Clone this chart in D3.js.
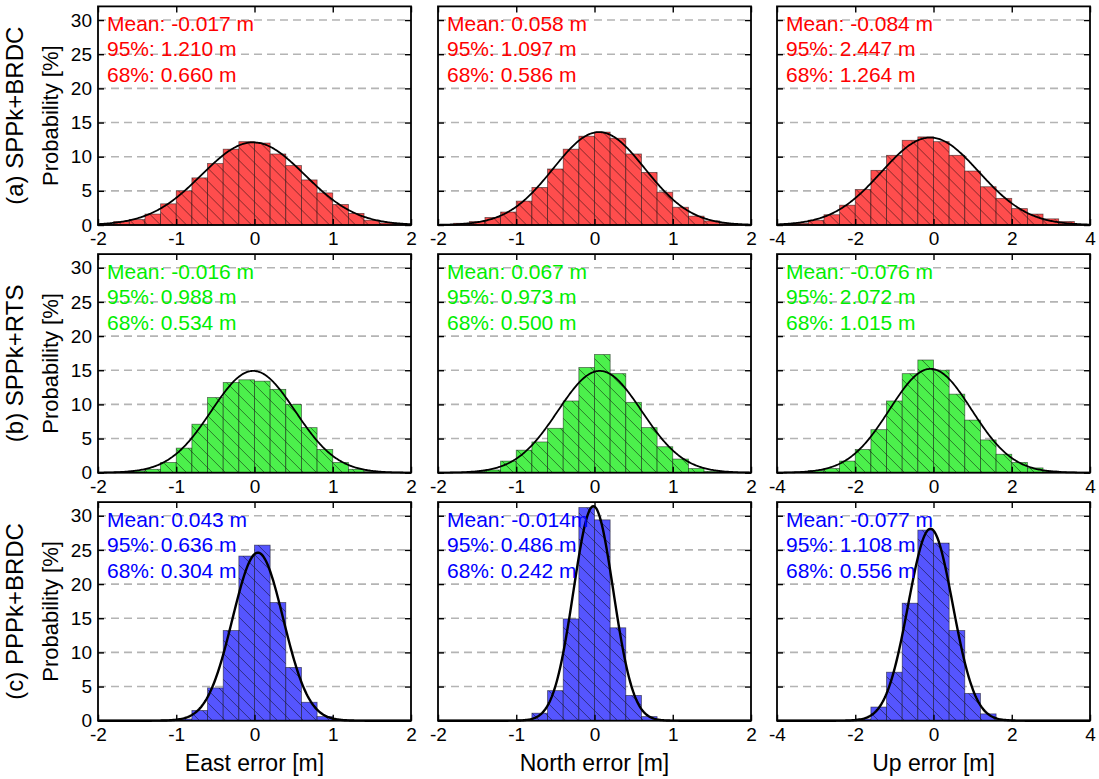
<!DOCTYPE html>
<html>
<head>
<meta charset="utf-8">
<script src="https://cdn.jsdelivr.net/npm/d3@7"></script>
<style>
  body { margin: 0; background: #fff; }
  text { font-family: "Liberation Sans", Arial, sans-serif; }
</style>
</head>
<body>
<div id="chart"></div>
<script>
// rows = methods, columns = error components
const methods = ["(a) SPPk+BRDC", "(b) SPPk+RTS", "(c) PPPk+BRDC"];
const components = ["East error [m]", "North error [m]", "Up error [m]"];
const xDomains = [[-2, 2], [-2, 2], [-4, 4]];
const xTickValues = [[-2, -1, 0, 1, 2], [-2, -1, 0, 1, 2], [-4, -2, 0, 2, 4]];
const binWidths = [0.2, 0.2, 0.4];
const yTicks = [0, 5, 10, 15, 20, 25, 30];

// histogram heights [%], 20 bins per panel from the left edge of the x domain
const histA = [
  [0.1, 0.5, 0.8, 1.6, 3.1, 5.0, 6.9, 9.0, 11.1, 12.2, 12.0, 10.4, 8.7, 6.6, 4.7, 3.0, 1.7, 0.7, 0.3, 0.1],
  [0.05, 0.25, 0.5, 1.1, 1.9, 3.5, 5.5, 8.2, 11.1, 13.0, 13.6, 12.7, 10.4, 7.7, 4.8, 2.6, 1.3, 0.6, 0.2, 0.05],
  [0.1, 0.25, 0.7, 1.5, 2.9, 5.2, 8.0, 10.2, 12.4, 12.9, 12.2, 10.2, 7.9, 5.6, 3.9, 2.4, 1.6, 0.9, 0.5, 0.1]
];
const histB = [
  [0, 0.1, 0.25, 0.5, 1.5, 3.6, 7.1, 11.0, 13.2, 13.6, 13.4, 12.2, 10.0, 6.6, 3.4, 1.5, 0.5, 0.15, 0, 0],
  [0, 0, 0.2, 0.4, 1.7, 3.3, 4.5, 6.5, 10.5, 15.4, 17.3, 14.5, 10.3, 6.6, 3.8, 2.0, 0.6, 0.2, 0, 0],
  [0, 0.1, 0.3, 0.6, 1.7, 3.4, 6.3, 10.5, 14.5, 16.5, 15.0, 11.5, 7.7, 4.8, 2.7, 1.5, 0.7, 0.25, 0.1, 0]
];
const histC = [
  [0, 0, 0, 0, 0.1, 0.25, 1.5, 4.8, 13.2, 24.1, 25.7, 17.3, 7.8, 2.7, 0.6, 0.1, 0, 0, 0, 0],
  [0, 0, 0, 0, 0, 0.1, 1.1, 4.4, 14.9, 31.2, 29.4, 13.6, 3.7, 0.6, 0.05, 0, 0, 0, 0, 0],
  [0, 0, 0, 0, 0.05, 0.25, 2.0, 7.1, 17.2, 27.9, 26.0, 13.2, 4.0, 1.0, 0.1, 0, 0, 0, 0, 0]
];
const hists = [histA, histB, histC];

// fitted normal curve: mean [m] and peak height [%]
const means = [[-0.017, 0.058, -0.084], [-0.016, 0.067, -0.076], [0.043, -0.014, -0.077]];
const curvePeaks = [[12.1, 13.6, 12.8], [14.9, 14.9, 15.2], [24.6, 31.4, 28.1]];

// stats text
const meanLabels = [["Mean: -0.017 m", "Mean: 0.058 m", "Mean: -0.084 m"],
                    ["Mean: -0.016 m", "Mean: 0.067 m", "Mean: -0.076 m"],
                    ["Mean: 0.043 m", "Mean: -0.014m", "Mean: -0.077 m"]];
const p95Labels = [["95%: 1.210 m", "95%: 1.097 m", "95%: 2.447 m"],
                   ["95%: 0.988 m", "95%: 0.973 m", "95%: 2.072 m"],
                   ["95%: 0.636 m", "95%: 0.486 m", "95%: 1.108 m"]];
const p68Labels = [["68%: 0.660 m", "68%: 0.586 m", "68%: 1.264 m"],
                   ["68%: 0.534 m", "68%: 0.500 m", "68%: 1.015 m"],
                   ["68%: 0.304 m", "68%: 0.242 m", "68%: 0.556 m"]];

const fillColors = ["#ff4d4d", "#4cf04c", "#5555ff"];
const textColors = ["#ff0000", "#00ee00", "#0000ff"];

//layout
const width = 1099, height = 779;
const colLeft = [98, 438, 777];
const rowBottom = [225, 472.7, 720.7];
const plotW = 313;
const yMax = 32;
const plotH = 218.6;

const svg = d3.select("#chart").append("svg")
  .attr("width", width)
  .attr("height", height);

// hatch pattern, one per row colour
const defs = svg.append("defs");
fillColors.forEach((c, i) => {
  const p = defs.append("pattern")
    .attr("id", "hatch" + i)
    .attr("patternUnits", "userSpaceOnUse")
    .attr("width", 13).attr("height", 13);
  p.append("rect").attr("width", 13).attr("height", 13).attr("fill", c);
  p.append("path")
    .attr("d", "M0,0L13,13M-6.5,6.5L6.5,19.5M6.5,-6.5L19.5,6.5")
    .attr("stroke", "rgba(0,0,0,0.6)")
    .attr("stroke-width", 0.8);
});

const yscale = d3.scaleLinear().domain([0, yMax]).range([plotH, 0]);

methods.forEach((method, r) => {
  components.forEach((comp, c) => {
    const top = rowBottom[r] - plotH;
    const g = svg.append("g")
      .attr("transform", "translate(" + colLeft[c] + "," + top + ")");

    const xscale = d3.scaleLinear().domain(xDomains[c]).range([0, plotW]);

    // dashed grid
    g.append("g").selectAll("line")
      .data(yTicks.filter(t => t > 0))
      .join("line")
      .attr("x1", 0).attr("x2", plotW)
      .attr("y1", d => yscale(d)).attr("y2", d => yscale(d))
      .attr("stroke", "#b4b4b4")
      .attr("stroke-width", 1.6)
      .attr("stroke-dasharray", "8,5");

    // bars
    const bins = hists[r][c].map((v, i) => ({
      x0: xDomains[c][0] + i * binWidths[c],
      x1: xDomains[c][0] + (i + 1) * binWidths[c],
      v: v
    })).filter(d => d.v > 0);

    g.append("g").selectAll("rect")
      .data(bins)
      .join("rect")
      .attr("x", d => xscale(d.x0))
      .attr("width", d => xscale(d.x1) - xscale(d.x0))
      .attr("y", d => yscale(d.v))
      .attr("height", d => yscale(0) - yscale(d.v))
      .attr("fill", "url(#hatch" + r + ")")
      .attr("stroke", "rgba(0,0,0,0.55)")
      .attr("stroke-width", 0.8);

    // normal curve, area matches bin width
    const mu = means[r][c];
    const peak = curvePeaks[r][c];
    const sigma = binWidths[c] * 100 / (peak * Math.sqrt(2 * Math.PI));
    const xs = d3.range(0, 301).map(i => xDomains[c][0] + i * (xDomains[c][1] - xDomains[c][0]) / 300);
    const line = d3.line()
      .x(d => xscale(d))
      .y(d => yscale(peak * Math.exp(-0.5 * Math.pow((d - mu) / sigma, 2))));
    g.append("path")
      .datum(xs)
      .attr("d", line)
      .attr("fill", "none")
      .attr("stroke", "#000")
      .attr("stroke-width", r == 2 ? 2.4 : 1.8);

    // axes (ticks inward on all four sides)
    const xAxisB = d3.axisBottom(xscale).tickValues(xTickValues[c]).tickSize(-6).tickPadding(7).tickFormat(d => String(d));
    const xAxisT = d3.axisTop(xscale).tickValues(xTickValues[c]).tickSize(-6).tickFormat("");
    const yAxisL = d3.axisLeft(yscale).tickValues(yTicks).tickSize(-6).tickPadding(6).tickFormat(d => String(d));
    const yAxisR = d3.axisRight(yscale).tickValues(yTicks).tickSize(-6).tickFormat("");

    g.append("g").attr("transform", "translate(0," + plotH + ")").call(xAxisB);
    g.append("g").call(xAxisT);
    const yl = g.append("g").call(yAxisL);
    g.append("g").attr("transform", "translate(" + plotW + ",0)").call(yAxisR);
    if (c > 0) yl.selectAll(".tick text").remove();

    g.selectAll(".domain").remove();
    g.selectAll(".tick line").attr("stroke", "#000").attr("stroke-width", 1.4);
    g.selectAll(".tick text")
      .attr("fill", "#000")
      .style("font-size", "19px")
      .style("font-family", "'Liberation Sans', Arial, sans-serif");

    // frame
    g.append("rect")
      .attr("width", plotW).attr("height", plotH)
      .attr("fill", "none")
      .attr("stroke", "#000")
      .attr("stroke-width", 1.8);

    // stats
    const stats = [meanLabels[r][c], p95Labels[r][c], p68Labels[r][c]];
    g.append("g").selectAll("text")
      .data(stats)
      .join("text")
      .attr("x", 9)
      .attr("y", (d, i) => 24.6 + i * 25.5)
      .attr("fill", textColors[r])
      .style("font-size", "21px")
      .text(d => d);

    // x axis label
    if (r == 2) {
      g.append("text")
        .attr("x", plotW / 2)
        .attr("y", plotH + 50)
        .attr("text-anchor", "middle")
        .style("font-size", "23px")
        .text(comp);
    }

    // y labels
    if (c == 0) {
      g.append("text")
        .attr("transform", "translate(-40," + (plotH / 2) + ") rotate(-90)")
        .attr("text-anchor", "middle")
        .style("font-size", "22px")
        .text("Probability [%]");
      g.append("text")
        .attr("transform", "translate(-75," + (plotH / 2) + ") rotate(-90)")
        .attr("text-anchor", "middle")
        .style("font-size", "24px")
        .text(method);
    }
  });
});
</script>
</body>
</html>
